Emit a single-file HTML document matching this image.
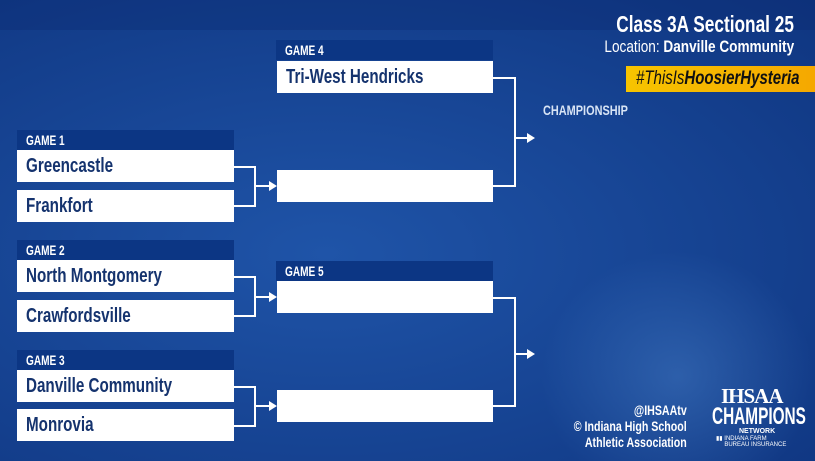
<!DOCTYPE html>
<html><head><meta charset="utf-8"><style>
*{margin:0;padding:0;box-sizing:border-box}
body{width:815px;height:461px;overflow:hidden;position:relative;font-family:"Liberation Sans",sans-serif;font-weight:bold;
background:radial-gradient(ellipse at 40% 55%,#1f54a8 0%,#164392 55%,#0f3580 100%);}
.bg3{position:absolute;left:0;top:0;width:815px;height:30px;background:rgba(10,40,110,0.3)}
.bg4{position:absolute;left:540px;top:250px;width:275px;height:211px;background:radial-gradient(ellipse at 50% 60%,rgba(90,150,220,0.35),rgba(90,150,220,0) 70%)}
.hd{position:absolute;height:20px;background:#0c3684;color:#fff;font-size:14px;line-height:20px;padding-left:9px;white-space:nowrap}
.bx{position:absolute;height:32px;background:#fff;color:#15336e;font-size:20px;line-height:32px;padding-left:9px;white-space:nowrap}
.s{display:inline-block;transform-origin:left center}
.hd .s{transform:scaleX(.72)}
.bx .s{transform:scaleX(.76)}
.ln{position:absolute;background:#fff}
.ar{position:absolute;width:0;height:0;border-top:5px solid transparent;border-bottom:5px solid transparent;border-left:8px solid #fff}
.t{position:absolute;color:#fff;white-space:nowrap}
.r{transform-origin:right center;display:inline-block}
</style></head><body>
<div class="bg3"></div><div class="bg4"></div>

<div class="hd" style="left:276px;top:40px;width:217px"><span class="s">GAME 4</span></div>
<div class="bx" style="left:277px;top:61px;width:216px"><span class="s">Tri-West Hendricks</span></div>

<div class="hd" style="left:17px;top:130px;width:217px"><span class="s">GAME 1</span></div>
<div class="bx" style="left:17px;top:150px;width:217px"><span class="s">Greencastle</span></div>
<div class="bx" style="left:17px;top:190px;width:217px"><span class="s">Frankfort</span></div>
<div class="bx" style="left:277px;top:170px;width:216px"></div>

<div class="hd" style="left:17px;top:240px;width:217px"><span class="s">GAME 2</span></div>
<div class="bx" style="left:17px;top:260px;width:217px"><span class="s">North Montgomery</span></div>
<div class="bx" style="left:17px;top:300px;width:217px"><span class="s">Crawfordsville</span></div>

<div class="hd" style="left:276px;top:261px;width:217px"><span class="s">GAME 5</span></div>
<div class="bx" style="left:277px;top:281px;width:216px"></div>

<div class="hd" style="left:17px;top:350px;width:217px"><span class="s">GAME 3</span></div>
<div class="bx" style="left:17px;top:370px;width:217px"><span class="s">Danville Community</span></div>
<div class="bx" style="left:17px;top:409px;width:217px"><span class="s">Monrovia</span></div>
<div class="bx" style="left:277px;top:390px;width:216px"></div>

<div class="ln" style="left:234px;top:166px;width:22px;height:2px"></div>
<div class="ln" style="left:234px;top:205px;width:22px;height:2px"></div>
<div class="ln" style="left:254px;top:166px;width:2px;height:41px"></div>
<div class="ln" style="left:254px;top:185px;width:16px;height:2px"></div>
<div class="ar" style="left:269px;top:181px"></div>
<div class="ln" style="left:234px;top:276px;width:22px;height:2px"></div>
<div class="ln" style="left:234px;top:315px;width:22px;height:2px"></div>
<div class="ln" style="left:254px;top:276px;width:2px;height:41px"></div>
<div class="ln" style="left:254px;top:296px;width:16px;height:2px"></div>
<div class="ar" style="left:269px;top:292px"></div>
<div class="ln" style="left:234px;top:386px;width:22px;height:2px"></div>
<div class="ln" style="left:234px;top:425px;width:22px;height:2px"></div>
<div class="ln" style="left:254px;top:386px;width:2px;height:41px"></div>
<div class="ln" style="left:254px;top:405px;width:16px;height:2px"></div>
<div class="ar" style="left:269px;top:401px"></div>
<div class="ln" style="left:493px;top:77px;width:22px;height:2px"></div>
<div class="ln" style="left:493px;top:185px;width:22px;height:2px"></div>
<div class="ln" style="left:514px;top:77px;width:2px;height:110px"></div>
<div class="ln" style="left:514px;top:137px;width:14px;height:2px"></div>
<div class="ar" style="left:527px;top:133px"></div>
<div class="ln" style="left:493px;top:297px;width:22px;height:2px"></div>
<div class="ln" style="left:493px;top:405px;width:22px;height:2px"></div>
<div class="ln" style="left:514px;top:297px;width:2px;height:110px"></div>
<div class="ln" style="left:514px;top:353px;width:14px;height:2px"></div>
<div class="ar" style="left:527px;top:349px"></div>

<div class="t" style="left:543px;top:102px;font-size:14px;color:#d8e4f5"><span class="s" style="transform:scaleX(.78)">CHAMPIONSHIP</span></div>

<div class="t" style="right:21px;top:11px;font-size:23px"><span class="r" style="transform:scaleX(.75)">Class 3A Sectional 25</span></div>
<div class="t" style="right:21px;top:37px;font-size:17px"><span class="r" style="transform:scaleX(.8)"><span style="font-weight:normal">Location:</span> Danville Community</span></div>
<div style="position:absolute;left:626px;top:66px;width:189px;height:26px;background:linear-gradient(90deg,#f7c400,#f5a800);color:#111;font-size:19px;line-height:26px;font-style:italic;padding-left:10px;white-space:nowrap"><span class="s" style="transform:scaleX(.79)"><span style="font-weight:normal">#ThisIs</span>HoosierHysteria</span></div>

<div class="t" style="right:128px;top:402px;font-size:14px;text-align:right;line-height:16px"><span class="r" style="transform:scaleX(.76)">@IHSAAtv<br>© Indiana High School<br>Athletic Association</span></div>

<div class="t" style="left:721px;top:384px;font-size:21px;font-family:'Liberation Serif',serif;letter-spacing:-1px">IHSAA</div>
<div class="t" style="left:712px;top:403px;font-size:24px"><span class="s" style="transform:scaleX(.64)">CHAMPIONS</span></div>
<div class="t" style="left:739px;top:428px;font-size:7px">NETWORK</div>
<div class="t" style="left:716px;top:436px;font-size:6px;line-height:6px;font-weight:normal">▮▮ INDIANA FARM<br>&nbsp;&nbsp;&nbsp;&nbsp;&nbsp;BUREAU INSURANCE</div>
</body></html>
